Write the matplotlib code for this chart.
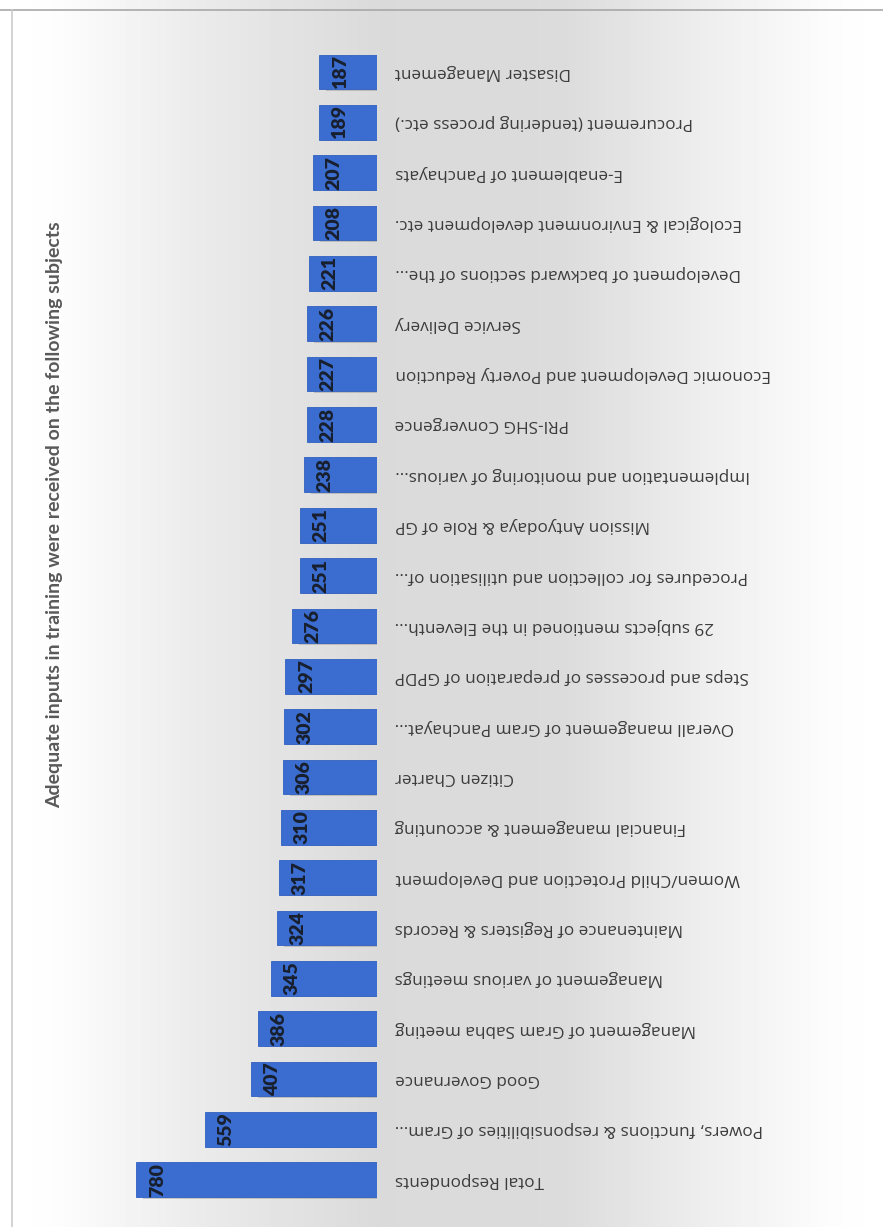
import numpy as np
import matplotlib
matplotlib.use("Agg")
import matplotlib.pyplot as plt
import matplotlib.patheffects as pe

# survey counts, listed top to bottom as drawn
subjects = [
    "Disaster Management",
    "Procurement (tendering process etc.)",
    "E-enablement of Panchayats",
    "Ecological & Environment development etc.",
    "Development of backward sections of the...",
    "Service Delivery",
    "Economic Development and Poverty Reduction",
    "PRI-SHG Convergence",
    "Implementation and monitoring of various...",
    "Mission Antyodaya & Role of GP",
    "Procedures for collection and utilisation of...",
    "29 subjects mentioned in the Eleventh...",
    "Steps and processes of preparation of GPDP",
    "Overall management of Gram Panchayat...",
    "Citizen Charter",
    "Financial management & accounting",
    "Women/Child Protection and Development",
    "Maintenance of Registers & Records",
    "Management of various meetings",
    "Management of Gram Sabha meeting",
    "Good Governance",
    "Powers, functions & responsibilities of Gram...",
    "Total Respondents",
]
responses = [187, 189, 207, 208, 221, 226, 227, 228, 238, 251, 251, 276,
             297, 302, 306, 310, 317, 324, 345, 386, 407, 559, 780]
title = "Adequate inputs in training were received on the following subjects"

plt.rcParams['font.family'] = ['Lato', 'DejaVu Sans']

W, H = 883, 1227
fig = plt.figure(figsize=(W / 100, H / 100), dpi=100)

# soft grey band behind the chart + frame lines
bg = fig.add_axes([0, 0, 1, 1], zorder=-10)
xs = np.arange(W)
shade = np.interp(xs, [0, 15, 60, 200, 380, 560, 700, 830, W],
                  [1, 1, .99, .92, .855, .86, .93, .99, 1])
bg.imshow(shade[None, :], cmap='gray', vmin=0, vmax=1, aspect='auto',
          extent=(0, W, H, 0))
bg.set_xlim(0, W)
bg.set_ylim(H, 0)
bg.axis('off')
bg.plot([0, W], [10, 10], color='#a8a8a8', lw=1.2)
bg.plot([12, 12], [10, H], color='#cccccc', lw=1.2)

ax = fig.add_axes([100 / W, 1 - 1210 / H, 277 / W, 1170 / H])
ax.patch.set_alpha(0)
y = np.arange(len(subjects))
ax.barh(y, responses, height=0.69, color='#3b6dd0', edgecolor='#3160c0', lw=0.6,
        path_effects=[pe.SimplePatchShadow(offset=(5, -1), shadow_rgbFace='#6e6e6e', alpha=0.3),
                      pe.Normal()])
ax.set_xlim(898, 0)
ax.set_ylim(22.6, -0.635)
ax.axis('off')

for yi, v, name in zip(y, responses, subjects):
    ax.annotate(str(v), (v, yi), xytext=(21, 0), textcoords='offset pixels',
                rotation=90, ha='center', va='center', fontsize=14,
                fontweight='heavy', color='#18202e')
    ax.annotate(name, (0, yi), xytext=(18, 0), textcoords='offset pixels',
                rotation=180, ha='left', va='center', fontsize=12.3,
                family=['Open Sans', 'DejaVu Sans'], color='#3c3c3c',
                annotation_clip=False)

fig.text(55 / W, 1 - 515 / H, title, rotation=90, ha='center', va='center',
         fontsize=14, fontweight='bold', color='#595959')

fig.savefig('out.png', dpi=100)
